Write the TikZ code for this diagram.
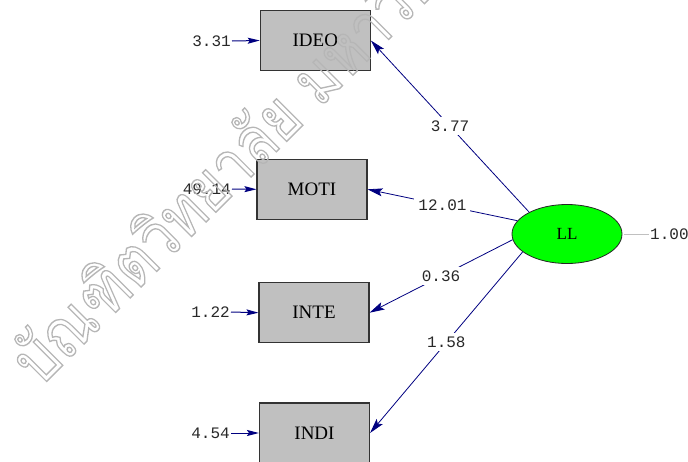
\documentclass[tikz,border=0pt]{standalone}
\usepackage{fontspec}
\setmainfont{Liberation Serif}
\setmonofont{Liberation Mono}
\newfontfamily\thaifont[Script=Thai]{Loma}
\usetikzlibrary{shapes.geometric,arrows.meta}

\definecolor{boxgray}{RGB}{192,192,192}
\definecolor{latentgreen}{RGB}{0,255,0}
\definecolor{pathnavy}{RGB}{0,0,128}
\definecolor{numink}{RGB}{40,40,40}
\definecolor{stampgray}{RGB}{182,182,182}

\tikzset{
  observed/.style={draw=black!80, line width=1.1pt, fill=boxgray,
    minimum width=110pt, minimum height=60pt, inner sep=0pt,
    font=\fontsize{19}{19}\selectfont},
  latent/.style={ellipse, draw=black!85, line width=0.8pt, fill=latentgreen,
    minimum width=110pt, minimum height=59pt, inner sep=0pt,
    font=\fontsize{17}{17}\selectfont},
  estimate/.style={font=\ttfamily\fontsize{16}{16}\selectfont, text=numink,
    text height=10pt, text depth=0pt, inner sep=1pt},
  loadlabel/.style={estimate, fill=white, inner sep=4pt, pos=0.5},
  loading/.style={draw=pathnavy, line width=0.8pt,
    -{Stealth[length=15pt,width=8pt,inset=3pt]}},
  errpath/.style={draw=pathnavy, line width=1pt,
    -{Stealth[length=12pt,width=6pt,inset=2pt]}},
}

\begin{document}
\begin{tikzpicture}[x=1pt,y=-1pt]
\useasboundingbox (0,0) rectangle (688,461);

% observed indicators
\node[observed] (IDEO) at (315.3,40.5) {IDEO};
\node[observed] (MOTI) at (312,189.3) {MOTI};
\node[observed] (INTE) at (314,312.7) {INTE};
\node[observed] (INDI) at (314.5,433) {INDI};

% latent factor
\node[latent] (LL) at (567,234) {LL};

% error variances
\node[estimate, anchor=east] (eIDEO) at (232,41) {3.31};
\node[estimate, anchor=east] (eMOTI) at (232,189) {49.14};
\node[estimate, anchor=east] (eINTE) at (231,312) {1.22};
\node[estimate, anchor=east] (eINDI) at (231,433) {4.54};
\draw[errpath] (eIDEO.east) -- (IDEO.west);
\draw[errpath] (eMOTI.east) -- (MOTI.west);
\draw[errpath] (eINTE.east) -- (INTE.west);
\draw[errpath] (eINDI.east) -- (INDI.west);

% factor variance
\node[estimate, anchor=west] (vLL) at (649,234) {1.00};
\draw[draw=boxgray, line width=1pt, shorten <=2pt] (LL.east) -- (vLL.west);

% factor loadings
\draw[loading] (LL.150) -- node[loadlabel] (lIDEO) {3.77} (IDEO.east);
\draw[loading] (LL.165) -- node[loadlabel] (lMOTI) {12.01} (MOTI.east);
\draw[loading] (LL.186) -- node[loadlabel] (lINTE) {0.36} (INTE.east);
\draw[loading] (LL.202) -- node[loadlabel] (lINDI) {1.58} (INDI.east);

% outlined stamp across the page
\begin{scope}
\clip (0,0) rectangle (688,461);
\node[rotate=45, xscale=0.85, anchor=base west, text=stampgray, inner sep=0pt,
  font=\thaifont\fontsize{67}{67}\selectfont] (stamp) at (40,388)
  {\special{pdf:code 1 Tr 1.4 w}บัณฑิตวิทยาลัย มหาวิทยาลัย};
\end{scope}
\end{tikzpicture}
\end{document}
